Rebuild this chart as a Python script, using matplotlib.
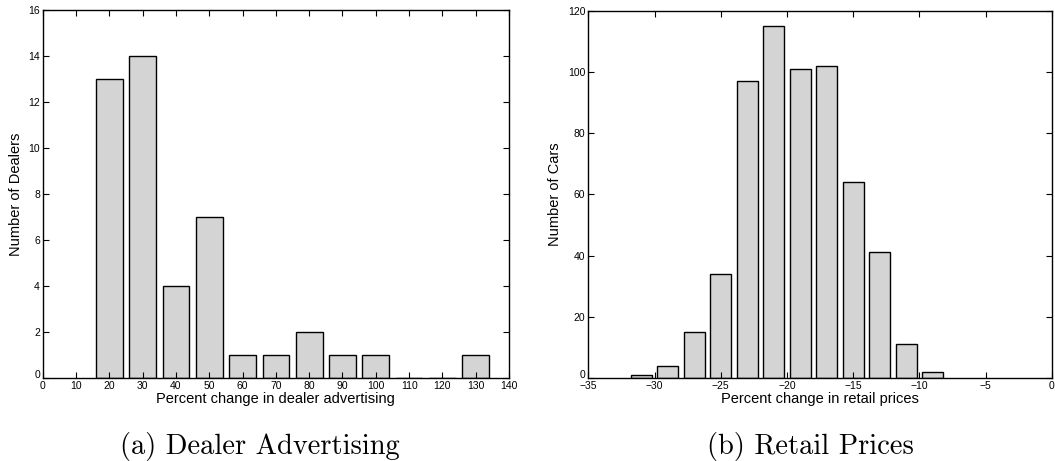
import matplotlib
matplotlib.use("Agg")
import matplotlib.pyplot as plt
from matplotlib.transforms import ScaledTranslation

# Data
adv_centers = [20, 30, 40, 50, 60, 70, 80, 90, 100, 110, 120, 130]
adv_counts = [13, 14, 4, 7, 1, 1, 2, 1, 1, 0, 0, 1]
adv_xticks = list(range(0, 141, 10))
adv_yticks = list(range(0, 17, 2))

price_centers = [-31, -29, -27, -25, -23, -21, -19, -17, -15, -13, -11, -9]
price_counts = [1, 4, 15, 34, 97, 115, 101, 102, 64, 41, 11, 2]
price_xticks = list(range(-35, 1, 5))
price_yticks = list(range(0, 121, 20))

plt.rcParams['font.family'] = ['Liberation Sans', 'DejaVu Sans']

fig = plt.figure(figsize=(10.55, 4.61), dpi=100)
ax1 = fig.add_axes([0.0405, 0.180, 0.442, 0.798])
ax2 = fig.add_axes([0.5576, 0.180, 0.4395, 0.797])

barcol = '#d4d4d4'

def style(ax, xt, yt, xlim, ylim, xlabel, ylabel):
    ax.set_xlim(*xlim)
    ax.set_ylim(*ylim)
    ax.set_xticks(xt)
    ax.set_yticks(yt)
    ax.tick_params(direction='in', top=True, right=True, length=4, width=0.8,
                   labelsize=7.5, pad=2)
    for s in ax.spines.values():
        s.set_linewidth(1.0)
    ax.set_xlabel(xlabel, fontsize=10.5, labelpad=1)
    ax.set_ylabel(ylabel, fontsize=10.5, labelpad=4)
    lab0 = ax.yaxis.get_major_ticks()[0].label1
    lab0.set_transform(lab0.get_transform() + ScaledTranslation(0, 4 / 100, fig.dpi_scale_trans))

ax1.bar(adv_centers, adv_counts, width=8, color=barcol, edgecolor='black', linewidth=1.0)
style(ax1, adv_xticks, adv_yticks, (0, 140), (0, 16),
      'Percent change in dealer advertising', 'Number of Dealers')

ax2.bar(price_centers, price_counts, width=1.6, color=barcol, edgecolor='black', linewidth=1.0)
style(ax2, price_xticks, price_yticks, (-35, 0), (0, 120),
      'Percent change in retail prices', 'Number of Cars')

fig.text(0.2464, 0.032, '(a) Dealer Advertising', fontsize=20.5, family='cmr10',
         ha='center', va='center')
fig.text(0.7678, 0.032, '(b) Retail Prices', fontsize=20.5, family='cmr10',
         ha='center', va='center')

fig.savefig('out.png', dpi=100)
